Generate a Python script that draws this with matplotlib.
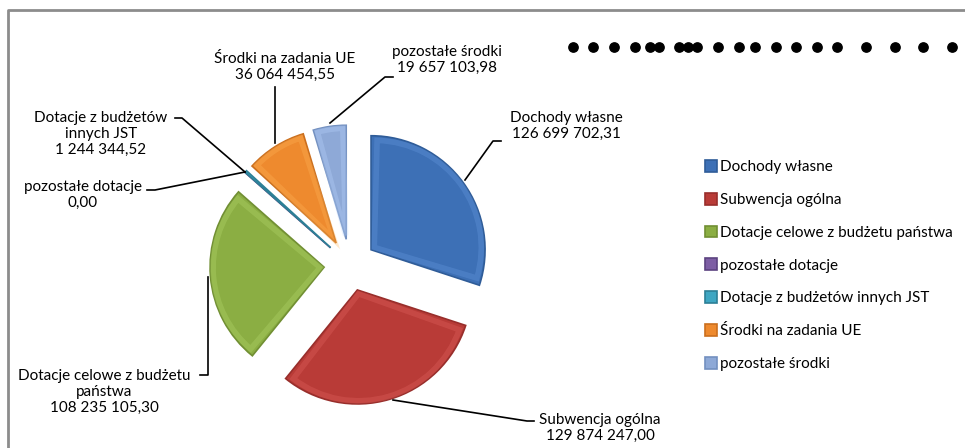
import matplotlib.pyplot as plt
import matplotlib.patches as mpatches
import matplotlib.colors as mcolors
import numpy as np

plt.rcParams['font.family'] = ['Lato', 'DejaVu Sans']

# dane
kategorie = ['Dochody własne', 'Subwencja ogólna', 'Dotacje celowe z budżetu państwa',
             'pozostałe dotacje', 'Dotacje z budżetów innych JST',
             'Środki na zadania UE', 'pozostałe środki']
wartosci = [126699702.31, 129874247.00, 108235105.30, 0.00, 1244344.52,
            36064454.55, 19657103.98]
etykiety = ['Dochody własne', 'Subwencja ogólna', 'Dotacje celowe z budżetu\npaństwa',
            'pozostałe dotacje', 'Dotacje z budżetów\ninnych JST',
            'Środki na zadania UE', 'pozostałe środki']
kolory = ['#3D70B6', '#B93B37', '#8BAE43', '#7D5EA4', '#3EA6C2', '#EE8A2E', '#8EA9D7']
krawedzie = ['#2F5C98', '#982E2B', '#718F33', '#5C4380', '#2C7F96', '#CB6F1E', '#7390C0']

# kropki w prawym górnym rogu (x w pikselach)
kropki_x = [573, 593, 614, 635, 650, 659, 679, 688, 697, 718, 739, 755, 776, 796,
            817, 837, 866, 895, 923, 952]

W, H = 965, 448


def fmt(v):
    s = f"{v:,.2f}"
    return s.replace(',', ' ').replace('.', ',')


fig = plt.figure(figsize=(9.65, 4.48), dpi=100)
ax = fig.add_axes([0, 0, 1, 1])

srodek = (350, H - 265)
promien = 114
wedges, _ = ax.pie(wartosci, radius=promien, center=srodek, startangle=90,
                   counterclock=False, explode=[26] * len(wartosci),
                   colors=kolory, frame=True,
                   wedgeprops=dict(linewidth=1.2))
for w, ec, c in zip(wedges, krawedzie, kolory):
    w.set_edgecolor(ec)
    # delikatny efekt fazowania
    if w.theta2 - w.theta1 > 5:
        jasny = tuple(min(1, v + 0.18) for v in mcolors.to_rgb(c))
        sr = np.deg2rad((w.theta1 + w.theta2) / 2)
        cx, cy = w.center
        inset = mpatches.Wedge((cx + 4 * np.cos(sr), cy + 4 * np.sin(sr)), w.r - 7,
                               w.theta1 + 1.5, w.theta2 - 1.5, facecolor='none',
                               edgecolor=jasny, lw=4, alpha=0.3)
        ax.add_patch(inset)

ax.set_xlim(0, W)
ax.set_ylim(0, H)
ax.set_aspect('auto')
ax.axis('off')

# ramka
ax.plot([8, 8, W], [0, H - 10, H - 10], color='#8C8C8C', lw=2, solid_capstyle='butt')

# etykiety z liniami odniesienia (piksele: x, y od góry)
opisy = [
    (0, 566, 126, [(465, 180), (493, 141), (501, 141)]),
    (1, 600, 428, [(393, 400), (527, 421), (534, 421)]),
    (2, 104, 392, [(208, 277), (208, 375), (200, 375)]),
    (3, 83, 195, [(245, 172), (155, 190), (147, 190)]),
    (4, 101, 134, [(245, 172), (182, 118), (175, 118)]),
    (5, 285, 67, [(275, 143), (275, 87)]),
    (6, 447, 60, [(330, 123), (385, 77), (393, 77)]),
]
for i, tx, ty, pts in opisy:
    xs = [p[0] for p in pts]
    ys = [H - p[1] for p in pts]
    ax.plot(xs, ys, color='black', lw=1.2)
    ax.text(tx, H - ty, f"{etykiety[i]}\n{fmt(wartosci[i])}", ha='center', va='center',
            fontsize=11, linespacing=1.15)

ax.scatter(kropki_x, [H - 47] * len(kropki_x), s=45, color='black', zorder=5)

ax.legend(wedges, kategorie, loc='upper left', bbox_to_anchor=(699 / W, 1 - 154 / H),
          frameon=False, fontsize=11, handlelength=0.8, handleheight=0.8,
          handletextpad=0.2, labelspacing=1.22, borderaxespad=0)

fig.savefig('out.png', dpi=100)
